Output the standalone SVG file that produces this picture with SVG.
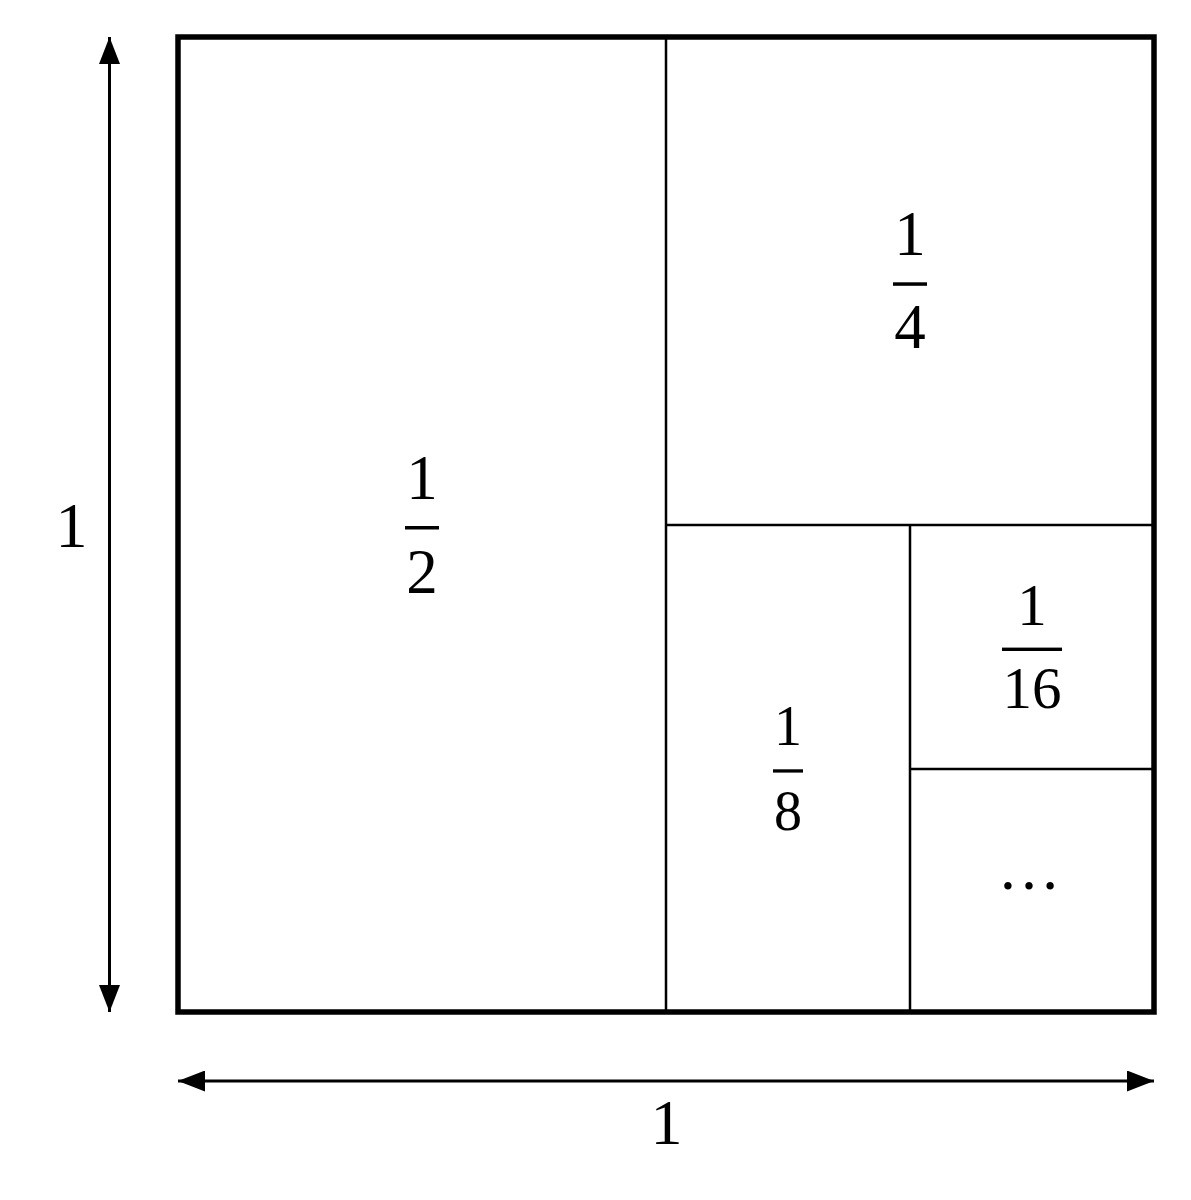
<svg xmlns="http://www.w3.org/2000/svg" width="1191" height="1200" viewBox="0 0 1191 1200">
<style>
text{font-family:"Liberation Serif","Times New Roman",serif;fill:#000;text-anchor:middle}
.thin{stroke:#000;stroke-width:2.5;fill:none}
.bar{fill:#000}
.arr{stroke:#000;stroke-width:3;fill:none}
</style>
<defs>
<marker id="ah" viewBox="0 0 27 21" refX="27" refY="10.5" markerWidth="27" markerHeight="21" markerUnits="userSpaceOnUse" orient="auto-start-reverse">
<path d="M0,0 L27,10.5 L0,21 Z" fill="#000"/>
</marker>
</defs>
<rect width="1191" height="1200" fill="#fff"/>
<g id="square">
<rect x="178" y="37" width="976" height="975" fill="none" stroke="#000" stroke-width="5.5"/>
</g>
<g id="dividers">
<line class="thin" x1="666" y1="37" x2="666" y2="1012"/>
<line class="thin" x1="666" y1="525" x2="1154" y2="525"/>
<line class="thin" x1="910" y1="525" x2="910" y2="1012"/>
<line class="thin" x1="910" y1="769" x2="1154" y2="769"/>
</g>
<g id="connectors">
<line class="arr" x1="109.5" y1="37" x2="109.5" y2="1012" marker-start="url(#ah)" marker-end="url(#ah)"/>
<line class="arr" x1="178" y1="1081" x2="1154" y2="1081" marker-start="url(#ah)" marker-end="url(#ah)"/>
</g>
<g id="label-left"><text x="71.5" y="547" font-size="64">1</text></g>
<g id="label-bottom"><text x="666.5" y="1144" font-size="64">1</text></g>
<g id="half">
<text x="422" y="499" font-size="63">1</text>
<rect class="bar" x="405" y="526" width="34" height="3.5"/>
<text x="422" y="593" font-size="63">2</text>
</g>
<g id="quarter">
<text x="910" y="255" font-size="63">1</text>
<rect class="bar" x="893" y="282.3" width="34" height="3.5"/>
<text x="910" y="348" font-size="63">4</text>
</g>
<g id="eighth">
<text x="788" y="745" font-size="56">1</text>
<rect class="bar" x="773" y="769.3" width="30" height="3.3"/>
<text x="788" y="830" font-size="56">8</text>
</g>
<g id="sixteenth">
<text x="1032" y="625" font-size="59">1</text>
<rect class="bar" x="1002" y="647.6" width="60" height="3.4"/>
<text x="1032" y="708" font-size="59">16</text>
</g>
<g id="rest">
<text x="1029" y="889" font-size="63">…</text>
</g>
</svg>
